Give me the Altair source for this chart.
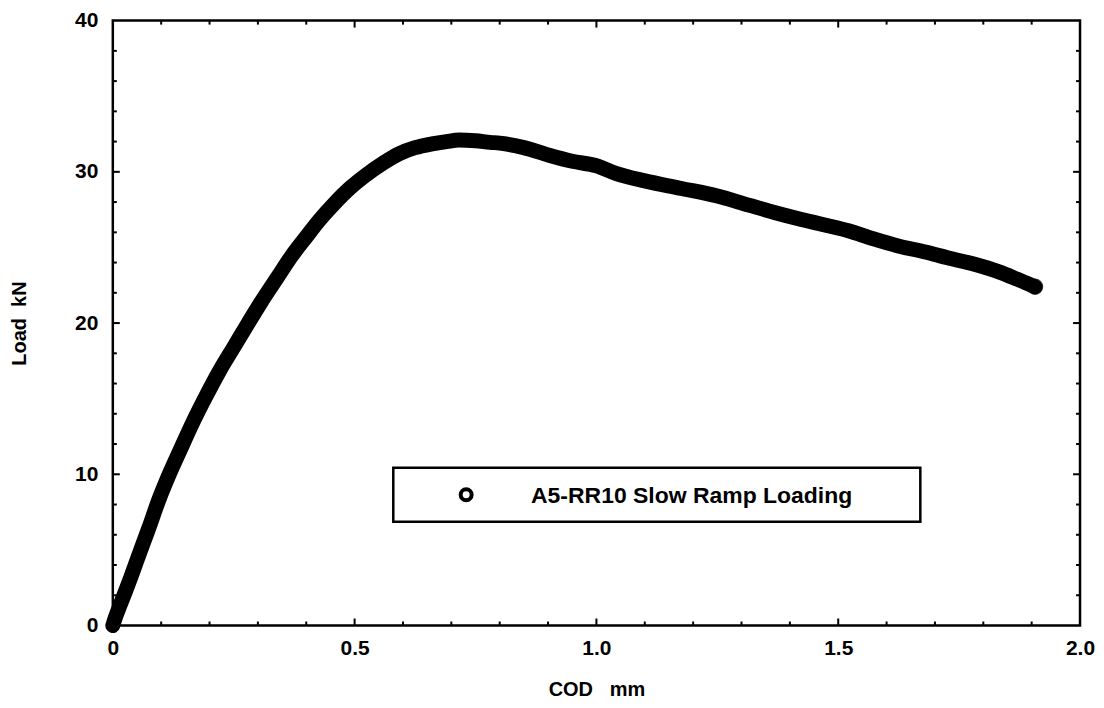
import altair as alt
import pandas as pd

# ---- data ----
cod_mm = [0.0, 0.005, 0.012, 0.023, 0.035, 0.052, 0.074, 0.095, 0.118, 0.142,
          0.165, 0.19, 0.22, 0.25, 0.28, 0.307, 0.34, 0.369, 0.40, 0.427,
          0.455, 0.493, 0.524, 0.56, 0.592, 0.625, 0.66, 0.69, 0.716, 0.75,
          0.78, 0.80, 0.85, 0.902, 0.95, 1.0, 1.04, 1.1, 1.176, 1.25,
          1.315, 1.37, 1.418, 1.47, 1.521, 1.57, 1.624, 1.68, 1.728, 1.78,
          1.831, 1.87, 1.907]
load_kn = [0.0, 0.5, 1.1, 2.0, 3.0, 4.5, 6.4, 8.3, 10.1, 11.8,
           13.4, 15.0, 16.8, 18.4, 20.0, 21.4, 23.0, 24.4, 25.7, 26.8,
           27.8, 29.0, 29.8, 30.6, 31.2, 31.6, 31.85, 32.0, 32.1, 32.05,
           31.95, 31.9, 31.6, 31.1, 30.7, 30.4, 29.9, 29.4, 28.9, 28.4,
           27.8, 27.3, 26.9, 26.5, 26.1, 25.6, 25.1, 24.7, 24.3, 23.9,
           23.4, 22.9, 22.4]

series_name = ["A5-RR10 Slow Ramp Loading"]

x_labels = [0, 0.5, 1.0, 1.5, 2.0]
y_labels = [0, 10, 20, 30, 40]
x_major_ticks = [0.5, 1.0, 1.5]
x_minor_ticks = [0.1, 0.2, 0.3, 0.4, 0.6, 0.7, 0.8, 0.9, 1.1, 1.2, 1.3, 1.4,
                 1.6, 1.7, 1.8, 1.9]
y_major_ticks = [10, 20, 30]
y_minor_ticks = [2, 4, 6, 8, 12, 14, 16, 18, 22, 24, 26, 28, 32, 34, 36, 38]

# ---- layout ----
W, H = 969, 606
FONT = "Liberation Sans, Arial, Helvetica, sans-serif"
MAJ, MIN = 7, 4

xs = alt.Scale(domain=[0, 2], nice=False, zero=False)
ys = alt.Scale(domain=[0, 40], nice=False)

x_axis = alt.Axis(values=x_labels,
                  labelExpr="datum.value == 0 ? '0' : format(datum.value, '.1f')",
                  title="COD\u00a0\u00a0\u00a0mm", ticks=False, tickSize=0, domain=False,
                  grid=False, labelPadding=12, labelFontSize=21, titleFontSize=20,
                  titleY=64, titleBaseline="middle", labelFlush=False,
                  labelOverlap=False)
y_axis = alt.Axis(values=y_labels, title="Load\u00a0\u00a0kN", ticks=False, tickSize=0,
                  domain=False, grid=False, labelPadding=15, labelFontSize=21,
                  titleFontSize=20, titleX=-93, titleY=H / 2, titleAngle=270,
                  titleBaseline="middle", titleAlign="center", labelFlush=False,
                  labelOverlap=False)

X = alt.X("cod:Q", scale=xs, axis=x_axis)
Y = alt.Y("load:Q", scale=ys, axis=y_axis)

df = pd.DataFrame({"cod": cod_mm, "load": load_kn})

curve = alt.Chart(df).mark_line(
    color="black", strokeWidth=15, strokeCap="round", strokeJoin="round",
    interpolate="monotone"
).encode(x=X, y=Y)

end_pt = alt.Chart(df.tail(1)).mark_point(
    shape="circle", filled=False, color="black", strokeWidth=5, size=130
).encode(x=X, y=Y)


def xticks(vals, length):
    d = pd.DataFrame({"cod": vals})
    bottom = alt.Chart(d).mark_rule(color="black", strokeWidth=2).encode(
        x=X, y=alt.value(H), y2=alt.value(H - length))
    top = alt.Chart(d).mark_rule(color="black", strokeWidth=2).encode(
        x=X, y=alt.value(0), y2=alt.value(length))
    return [bottom, top]


def yticks(vals, length):
    d = pd.DataFrame({"load": vals})
    left = alt.Chart(d).mark_rule(color="black", strokeWidth=2).encode(
        y=Y, x=alt.value(0), x2=alt.value(length))
    right = alt.Chart(d).mark_rule(color="black", strokeWidth=2).encode(
        y=Y, x=alt.value(W), x2=alt.value(W - length))
    return [left, right]


ticks = (xticks(x_major_ticks, MAJ) + xticks(x_minor_ticks, MIN)
         + yticks(y_major_ticks, MAJ) + yticks(y_minor_ticks, MIN))

# ---- legend box ----
leg_df = pd.DataFrame({"series": series_name})
leg_box = alt.Chart(leg_df).mark_rect(
    fill="white", stroke="black", strokeWidth=2.5
).encode(x=alt.value(281), x2=alt.value(809), y=alt.value(448), y2=alt.value(502))
leg_sym = alt.Chart(leg_df).mark_point(
    shape="circle", filled=False, color="black", strokeWidth=4, size=120,
    opacity=1
).encode(x=alt.value(354), y=alt.value(475))
leg_txt = alt.Chart(leg_df).mark_text(
    align="left", baseline="middle", fontSize=23, font=FONT, color="black",
    fontWeight="bold"
).encode(x=alt.value(419), y=alt.value(476), text="series:N")

chart = alt.layer(
    curve, end_pt, *ticks, leg_box, leg_sym, leg_txt
).properties(
    width=W, height=H,
    autosize=alt.AutoSizeParams(type="none"),
    padding={"left": 105, "top": 12, "right": 16, "bottom": 74},
).configure_view(
    stroke="black", strokeWidth=2.5
).configure_axis(
    labelFont=FONT, titleFont=FONT, labelColor="black", titleColor="black",
    labelFontWeight="bold", titleFontWeight="bold"
)

chart.save("out.html", embed_options={"renderer": "svg", "actions": False})
